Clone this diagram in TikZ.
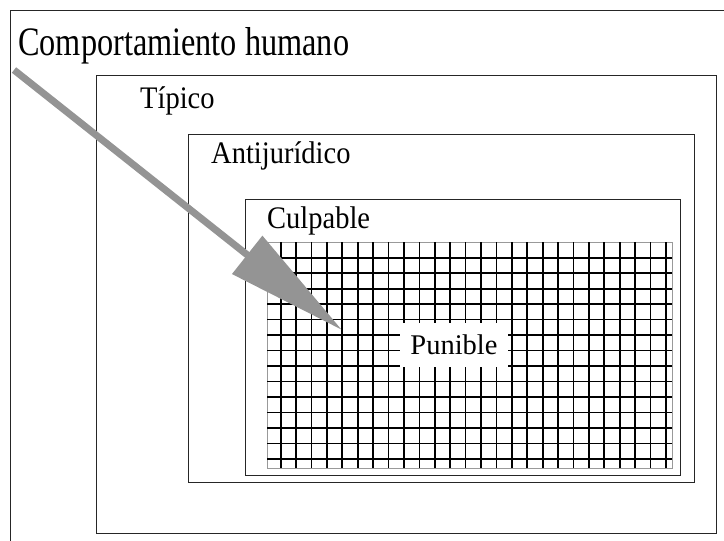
\documentclass[tikz,border=0pt]{standalone}
\usepackage{graphicx}
\usepackage{fontspec}
\setmainfont{Liberation Serif}
\usetikzlibrary{positioning}
\usetikzlibrary{arrows.meta}

\newcommand{\tallsmall}[1]{\scalebox{1}[1.1]{#1}}
\newcommand{\tallbig}[1]{\scalebox{1}[1.25]{#1}}

\begin{document}
\begin{tikzpicture}[x=1pt, y=-1pt,
            framenode/.style={rectangle, draw=black!85, line width=1pt, inner sep=0pt, anchor=north west},
            labelnode/.style={anchor=base west, inner sep=0pt, font=\fontsize{28.5}{32}\selectfont},
            gridline/.style={black, line width=1.7pt},
            ]
            \useasboundingbox (0,0) rectangle (724,541);
            \clip (0,0) rectangle (724,541);
            \fill[white] (0,0) rectangle (724,541);
            % nested frames
            \node[framenode, minimum width=740pt, minimum height=560pt] (human) at (10,10) {};
            \node[framenode, minimum width=620pt, minimum height=458pt] (tipico) at (96,75) {};
            \node[framenode, minimum width=506pt, minimum height=348pt] (antijur) at (188,134) {};
            \node[framenode, minimum width=435pt, minimum height=275.5pt] (culpable) at (245,199) {};
            \node[framenode, draw=black!40, line width=0.8pt, minimum width=405pt, minimum height=226pt] (grid) at (267,242) {};
            % labels
            \node[labelnode, font=\fontsize{32.3}{36}\selectfont] (humantext) at (18,55) {\tallbig{Comportamiento humano}};
            \node[labelnode] (tipicotext) at (140,108) {\tallsmall{Típico}};
            \node[labelnode] (antijurtext) at (211,163) {\tallsmall{Antijurídico}};
            \node[labelnode] (culpabletext) at (267,228) {\tallsmall{Culpable}};
            % grid lines
            \foreach \i in {0,...,25}
                \draw[gridline] (280.7+15.41*\i,242) -- (280.7+15.41*\i,468);
            \foreach \j in {0,...,13}
                \draw[gridline] (267,257.7+15.48*\j) -- (672,257.7+15.48*\j);
            \node[rectangle, fill=white, minimum width=108pt, minimum height=44pt, inner sep=0pt,
                  font=\fontsize{28.5}{32}\selectfont] (punible) at (454,345) {Punible};
            % arrow
            \coordinate (start) at (14,70);
            \coordinate (tip) at (342,330);
            \draw[black!42, line width=7pt, -{Triangle[length=121pt, width=47pt]}] (start) -- (tip);
        \end{tikzpicture}
\end{document}
